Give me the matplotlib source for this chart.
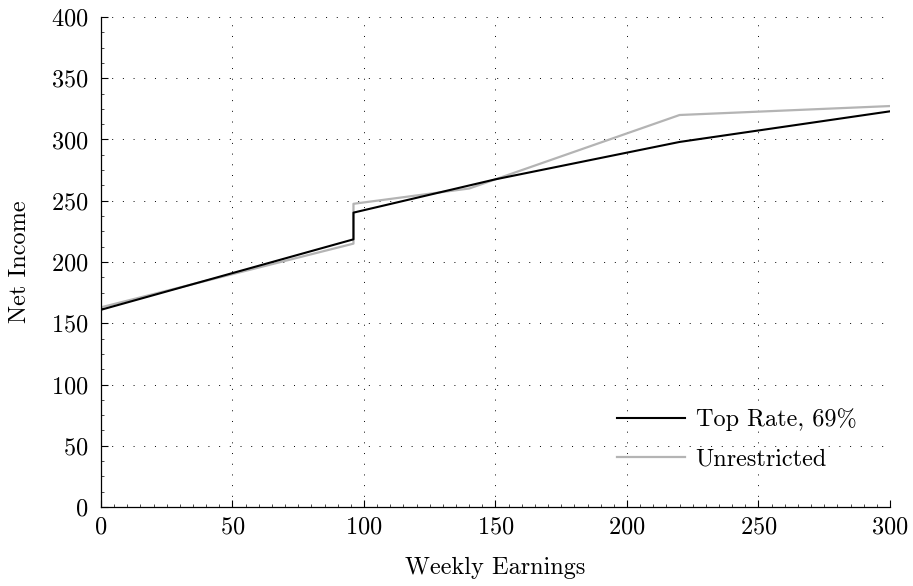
import matplotlib
matplotlib.use("Agg")
import matplotlib.pyplot as plt
from matplotlib.ticker import AutoMinorLocator

# Computer Modern look
plt.rcParams['font.family'] = ['cmr10', 'DejaVu Serif']
plt.rcParams['mathtext.fontset'] = 'cm'
plt.rcParams['axes.formatter.use_mathtext'] = True

# Data
top_x = [0, 96, 96, 150, 220, 300]
top_y = [161, 218.5, 240.3, 267.5, 298, 323]

unres_x = [0, 96, 96, 140, 220, 300]
unres_y = [163, 215, 247.5, 260, 320, 327.3]

x_ticks = [0, 50, 100, 150, 200, 250, 300]
y_ticks = [0, 50, 100, 150, 200, 250, 300, 350, 400]

FS = 17.5

fig = plt.figure(figsize=(9.13, 5.86), dpi=100)
ax = fig.add_axes([0.1106, 0.1348, 0.8642, 0.8362])

ax.plot(top_x, top_y, color='black', lw=1.5, label='Top Rate, 69%', zorder=3)
ax.plot(unres_x, unres_y, color='#b4b4b4', lw=1.6, label='Unrestricted', zorder=2)

ax.set_xlim(0, 300)
ax.set_ylim(0, 400)
ax.set_xticks(x_ticks)
ax.set_yticks(y_ticks)
ax.xaxis.set_minor_locator(AutoMinorLocator(10))
ax.yaxis.set_minor_locator(AutoMinorLocator(4))

ax.spines['top'].set_visible(False)
ax.spines['right'].set_visible(False)
ax.spines['left'].set_linewidth(0.9)
ax.spines['bottom'].set_linewidth(0.9)

ax.tick_params(which='both', direction='in', top=False, right=False, labelsize=FS)
ax.tick_params(axis='x', which='major', length=5, width=0.8, pad=7)
ax.tick_params(axis='y', which='major', length=5, width=0.8, pad=9)
ax.tick_params(which='minor', length=2.5, width=0.5)

ax.grid(True, which='major', linestyle=(0, (1, 10)), color='black', lw=0.7)
ax.set_axisbelow(True)

ax.set_xlabel('Weekly Earnings', fontsize=FS, labelpad=13)
ax.set_ylabel('Net Income', fontsize=FS, labelpad=14)

leg = ax.legend(loc='lower right', bbox_to_anchor=(0.985, 0.03), frameon=False,
                fontsize=FS, handlelength=2.8, handletextpad=0.45, labelspacing=0.7)

fig.savefig('out.png', dpi=100)
